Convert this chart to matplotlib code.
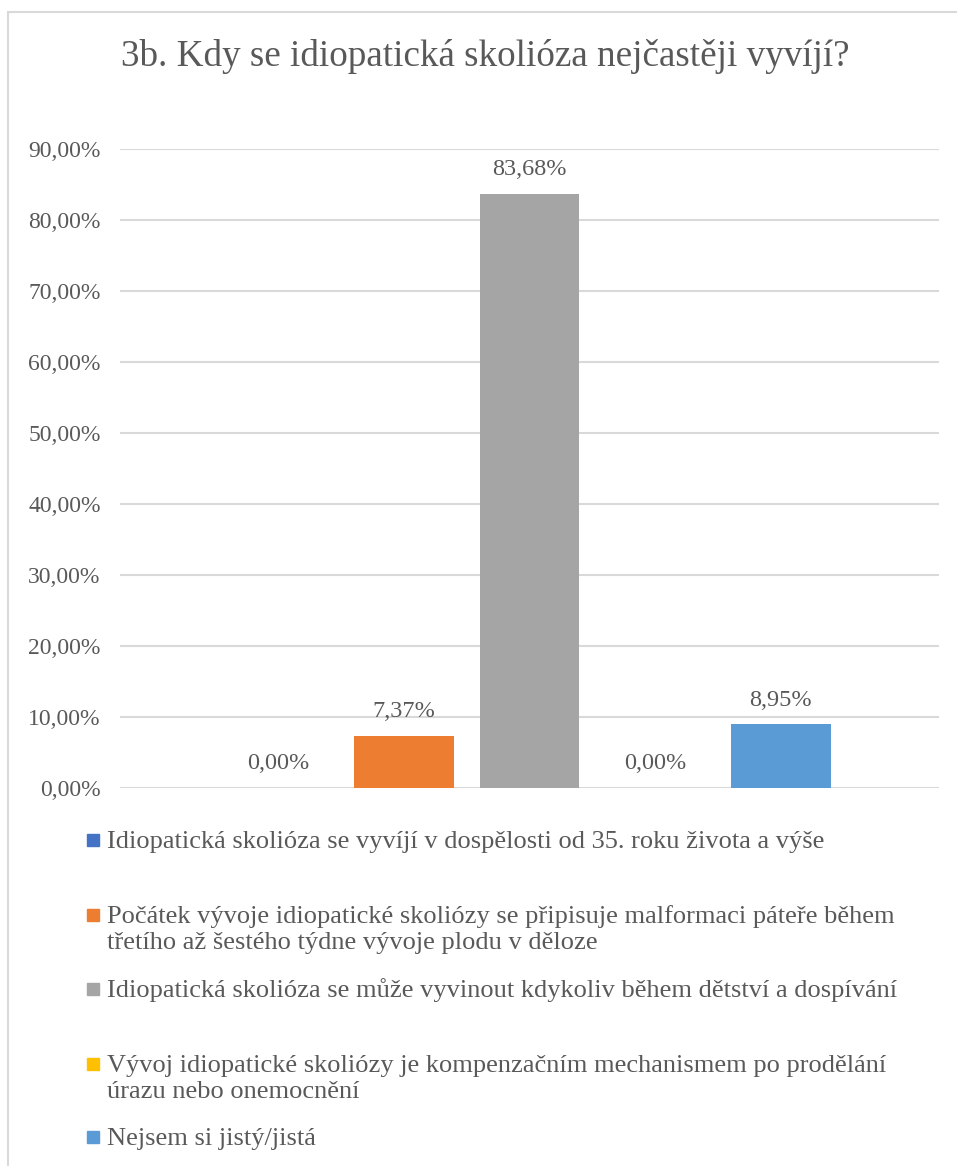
import matplotlib.pyplot as plt
from matplotlib.patches import Rectangle

# data
categories = [
    "Idiopatická skolióza se vyvíjí v dospělosti od 35. roku života a výše",
    "Počátek vývoje idiopatické skoliózy se připisuje malformaci páteře během\ntřetího až šestého týdne vývoje plodu v děloze",
    "Idiopatická skolióza se může vyvinout kdykoliv během dětství a dospívání",
    "Vývoj idiopatické skoliózy je kompenzačním mechanismem po prodělání\núrazu nebo onemocnění",
    "Nejsem si jistý/jistá",
]
values = [0.0, 0.0737, 0.8368, 0.0, 0.0895]
colors = ["#4472C4", "#ED7D31", "#A5A5A5", "#FFC000", "#5B9BD5"]
yticks = [0.0, 0.1, 0.2, 0.3, 0.4, 0.5, 0.6, 0.7, 0.8, 0.9]

TEXT = "#595959"
GRID = "#D9D9D9"
W, H = 957, 1166

plt.rcParams["font.family"] = ["Liberation Serif", "DejaVu Serif"]

fig = plt.figure(figsize=(W / 100, H / 100), dpi=100)
ax = fig.add_axes([120 / W, 1 - 788 / H, 819 / W, 639 / H])

xs = list(range(len(values)))
ax.bar(xs, values, width=0.796, color=colors, zorder=2)

for x, v in zip(xs, values):
    ax.annotate(f"{v * 100:.2f}%".replace(".", ","), (x, v), xytext=(0, 17.5),
                textcoords="offset points", ha="center", va="center",
                fontsize=17.5, color=TEXT)

ax.set_xlim(-1.26, 5.26)
ax.set_ylim(0, 0.9)
ax.set_yticks(yticks)
ax.set_yticklabels([f"{t * 100:.2f}%".replace(".", ",") for t in yticks],
                   fontsize=17, color=TEXT)
ax.set_xticks([])
ax.tick_params(axis="y", length=0, pad=14)
ax.grid(axis="y", color=GRID, linewidth=1.5, zorder=0)
for s in ax.spines.values():
    s.set_visible(False)

fig.text(485 / W, 1 - 66 / H, "3b. Kdy se idiopatická skolióza nejčastěji vyvíjí?",
         ha="center", va="baseline", fontsize=26.7, color=TEXT)

# legend, baseline of first line of each entry
leg_base = [848, 923, 997, 1072, 1145]
line_step = 26
for lab, col, y in zip(categories, colors, leg_base):
    fig.patches.append(Rectangle((87 / W, 1 - (y - 2) / H), 12 / W, 12 / H,
                                 transform=fig.transFigure, color=col))
    for i, line in enumerate(lab.split("\n")):
        fig.text(107 / W, 1 - (y + i * line_step) / H, line, ha="left",
                 va="baseline", fontsize=19, color=TEXT)

# chart border
fig.patches.append(Rectangle((8 / W, -0.05), 1.0, 1 - 12 / H + 0.05,
                             transform=fig.transFigure, fill=False,
                             edgecolor=GRID, linewidth=1.5))

fig.savefig("out.png", dpi=100)
